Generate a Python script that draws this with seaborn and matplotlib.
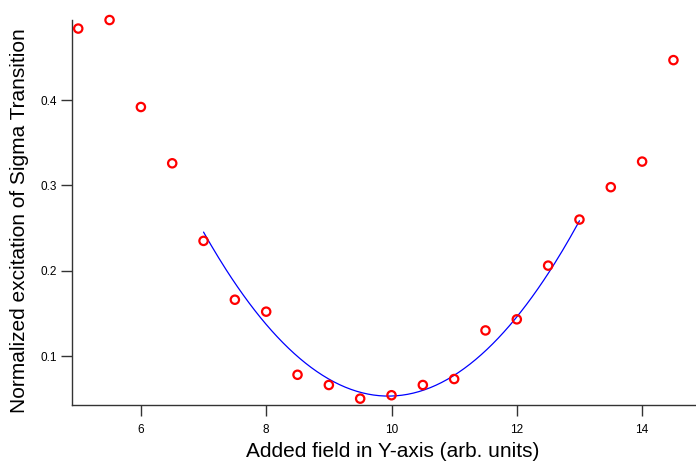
import numpy as np
import pandas as pd
import matplotlib
matplotlib.use("Agg")
import matplotlib.pyplot as plt
import seaborn as sns

field = [5.0, 5.5, 6.0, 6.5, 7.0, 7.5, 8.0, 8.5, 9.0, 9.5, 10.0,
         10.5, 11.0, 11.5, 12.0, 12.5, 13.0, 13.5, 14.0, 14.5]
excitation = [0.484, 0.494, 0.392, 0.326, 0.235, 0.166, 0.152, 0.078, 0.066, 0.050, 0.054,
              0.066, 0.073, 0.130, 0.143, 0.206, 0.260, 0.298, 0.328, 0.447]
# fitted parabola: a*(x - x0)^2 + c, drawn over fit_range
fit_range = [7.0, 13.0]
fit_a, fit_x0, fit_c = 0.0221, 9.95, 0.053
xticks = [6, 8, 10, 12, 14]
yticks = [0.1, 0.2, 0.3, 0.4]

sns.set_style("ticks")
plt.rcParams['font.family'] = ['Liberation Sans', 'DejaVu Sans']
plt.rcParams['text.color'] = 'black'
plt.rcParams['axes.labelcolor'] = 'black'
plt.rcParams['xtick.color'] = '#333333'
plt.rcParams['ytick.color'] = '#333333'
plt.rcParams['xtick.labelcolor'] = 'black'
plt.rcParams['ytick.labelcolor'] = 'black'

df = pd.DataFrame({"x": field, "y": excitation})
xf = np.linspace(fit_range[0], fit_range[1], 200)
fit_df = pd.DataFrame({"x": xf, "y": fit_a * (xf - fit_x0) ** 2 + fit_c})

fig = plt.figure(figsize=(6.96, 4.66), dpi=100)
ax = fig.add_axes([0.1034, 0.131, 0.8966, 0.826])

sns.lineplot(data=fit_df, x="x", y="y", ax=ax, color="blue", linewidth=0.9)
sns.scatterplot(data=df, x="x", y="y", ax=ax, marker="o", s=36,
                facecolor="none", edgecolor="red", linewidth=1.6, zorder=3,
                clip_on=False)

ax.set_xlim(4.9, 14.86)
ax.set_ylim(0.0426, 0.494)
ax.set_xticks(xticks)
ax.set_xticklabels([str(t) for t in xticks])
ax.set_yticks(yticks)
ax.set_yticklabels([f"{t:.1f}" for t in yticks])
ax.tick_params(axis="both", direction="out", length=8, width=1, labelsize=8.5)
ax.tick_params(axis="x", pad=6)
ax.tick_params(axis="y", pad=3)
for s in ["top", "right"]:
    ax.spines[s].set_visible(False)
for s in ["left", "bottom"]:
    ax.spines[s].set_color("#333333")
    ax.spines[s].set_linewidth(1)
ax.set_xlabel("Added field in Y-axis (arb. units)", fontsize=15)
ax.set_ylabel("Normalized excitation of Sigma Transition", fontsize=15)
ax.xaxis.set_label_coords(0.514, -0.097)
ax.yaxis.set_label_coords(-0.069, 0.478)

fig.savefig("out.png", dpi=100)
